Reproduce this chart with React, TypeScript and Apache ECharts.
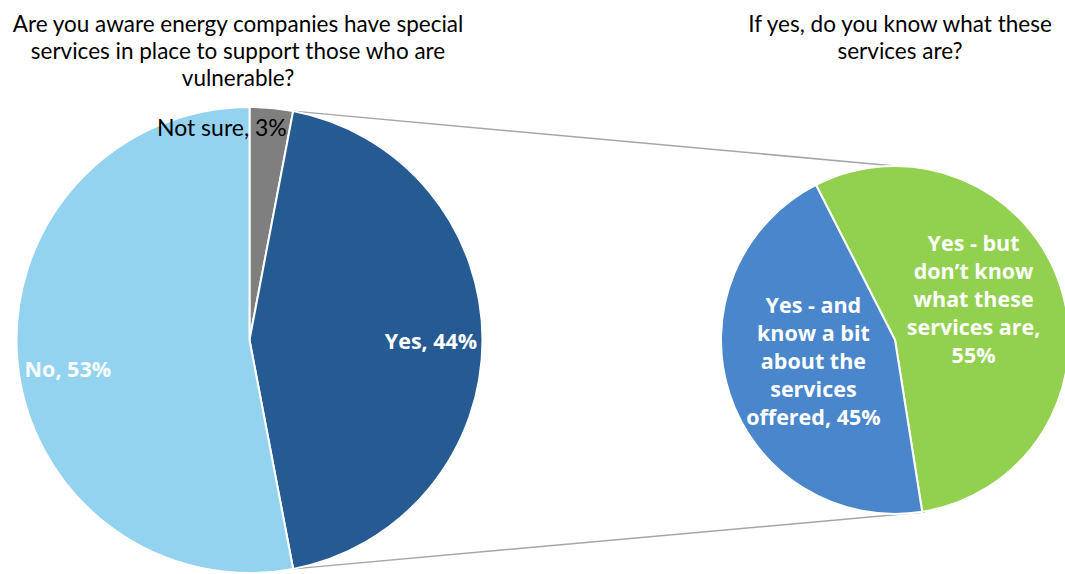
import React, { useEffect, useRef } from "react";
import * as echarts from "echarts";

const mainTitle = "Are you aware energy companies have special\nservices in place to support those who are\nvulnerable?";
const subTitle = "If yes, do you know what these\nservices are?";

const mainCategories = ["Not sure", "Yes", "No"];
const mainValues = [3, 44, 53];
const mainColors = ["#7F7F7F", "#265A92", "#93D3F0"];

const subCategories = ["Yes - but\ndon’t know\nwhat these\nservices are", "Yes - and\nknow a bit\nabout the\nservices\noffered"];
const subValues = [55, 45];
const subColors = ["#92D050", "#4A86CB"];
const subSeparators = [",\n", ", "];

const FONT = "Lato, 'Open Sans', sans-serif";
const BOLD_FONT = "'Open Sans', Lato, sans-serif";

// geometry
const W = 1065;
const H = 574;
const mainC = [249.5, 340];
const mainR = 233;
const subC = [895, 340];
const subR = 174;
const subStart = 117;

export default function App() {
  const ref = useRef<HTMLDivElement>(null);
  useEffect(() => {
    if (!ref.current) return;
    const chart = echarts.init(ref.current, null, { renderer: "svg" });

    const total = mainValues.reduce((a, b) => a + b, 0);
    const a0 = (mainValues[0] / total) * 2 * Math.PI;
    const a1 = ((mainValues[0] + mainValues[1]) / total) * 2 * Math.PI;
    const p0 = [mainC[0] + mainR * Math.sin(a0), mainC[1] - mainR * Math.cos(a0)];
    const p1 = [mainC[0] + mainR * Math.sin(a1), mainC[1] - mainR * Math.cos(a1)];
    const q0 = [subC[0], subC[1] - subR];
    const q1 = [subC[0] + 30, subC[1] + subR - 2];

    const titleStyle = { fontFamily: FONT, fontSize: 22.5, fontWeight: "normal", color: "#000", lineHeight: 27 };
    const boldTok = { fontFamily: BOLD_FONT, fontSize: 21.5, fontWeight: "bold", color: "#fff", lineHeight: 28, align: "center" };
    const plainTok = { fontFamily: FONT, fontSize: 23, fontWeight: "normal", color: "#000", lineHeight: 28, align: "center" };
    const spacer = (h: number) => ({ fontSize: 1, lineHeight: h, color: "rgba(0,0,0,0)" });

    const mainFormatters = [
      "{n|{b}, {c}%}\n{s| }",
      "{t|{b}, {c}%}",
      "{s| }\n{t|{b}, {c}%}",
    ];
    const mainRich = [
      { n: plainTok, s: spacer(58) },
      { t: boldTok },
      { t: boldTok, s: spacer(22) },
    ];
    const mainPads = [[0, 90, 0, 0], [0, 6, 0, 0], [0, 0, 0, 4]];

    const option: any = {
      animation: false,
      backgroundColor: "#ffffff",
      title: [
        { text: mainTitle, left: 233, top: 5, textAlign: "center", textStyle: titleStyle },
        { text: subTitle, left: 895, top: 5, textAlign: "center", textStyle: titleStyle },
      ],
      graphic: [
        { type: "line", shape: { x1: p0[0], y1: p0[1], x2: q0[0], y2: q0[1] }, style: { stroke: "#A6A6A6", lineWidth: 1.5 }, z: 0 },
        { type: "line", shape: { x1: p1[0], y1: p1[1], x2: q1[0], y2: q1[1] }, style: { stroke: "#A6A6A6", lineWidth: 1.5 }, z: 0 },
      ],
      series: [
        {
          type: "pie",
          center: mainC,
          radius: [0, mainR],
          startAngle: 90,
          clockwise: true,
          silent: true,
          label: { show: false },
          labelLine: { show: false },
          itemStyle: { borderColor: "#fff", borderWidth: 2 },
          data: mainCategories.map((n, i) => ({ name: n, value: mainValues[i], itemStyle: { color: mainColors[i] } })),
          z: 2,
        },
        {
          type: "pie",
          center: mainC,
          radius: [130, mainR],
          startAngle: 90,
          clockwise: true,
          silent: true,
          labelLine: { show: false },
          itemStyle: { color: "rgba(0,0,0,0)", borderWidth: 0 },
          label: { show: true, position: "inside" },
          data: mainCategories.map((n, i) => ({
            name: n,
            value: mainValues[i],
            label: { formatter: mainFormatters[i], rich: mainRich[i], padding: mainPads[i] },
          })),
          z: 3,
        },
        {
          type: "pie",
          center: subC,
          radius: [0, subR],
          startAngle: subStart,
          clockwise: true,
          silent: true,
          labelLine: { show: false },
          itemStyle: { borderColor: "#fff", borderWidth: 2 },
          label: { show: true, position: "inside" },
          data: subCategories.map((n, i) => ({
            name: n,
            value: subValues[i],
            itemStyle: { color: subColors[i] },
            label: {
              formatter: "{t|{b}" + subSeparators[i] + "{c}%}\n{s| }",
              rich: { t: boldTok, s: spacer(i === 0 ? 28 : 14) },
              padding: i === 0 ? [0, 14, 0, 0] : [0, 0, 0, 8],
            },
          })),
          z: 2,
        },
      ],
    };
    chart.setOption(option);
    return () => chart.dispose();
  }, []);
  return <div ref={ref} style={{ position: "fixed", left: 0, top: 0, width: W, height: H }} />;
}
